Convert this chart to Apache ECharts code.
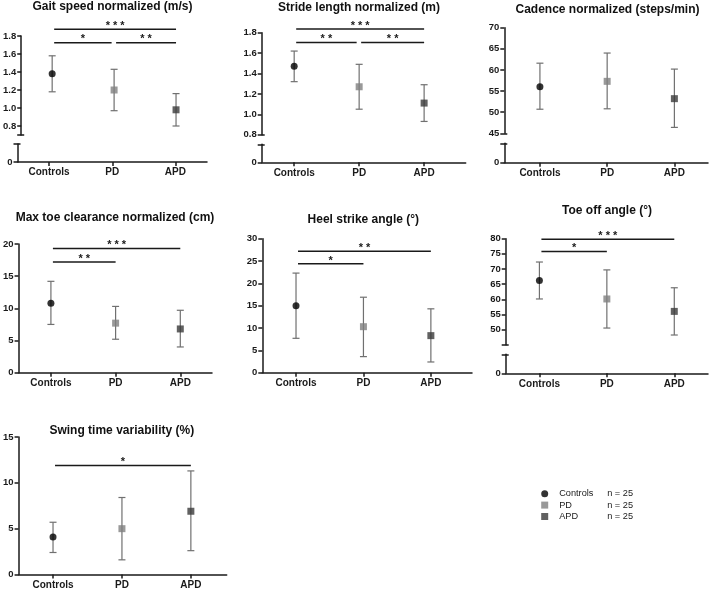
<!DOCTYPE html>
<html><head><meta charset="utf-8">
<script src="https://cdn.jsdelivr.net/npm/echarts@6/dist/echarts.min.js"></script>
<style>html,body{margin:0;padding:0;background:#fff}#c{width:709px;height:590px}</style>
</head><body><div id="c"></div>
<script>
// ---------------- DATA ----------------
const categories = ['Controls', 'PD', 'APD'];
const groupN = [25, 25, 25];
const titles = ['Gait speed normalized (m/s)', 'Stride length normalized (m)', 'Cadence normalized (steps/min)',
  'Max toe clearance normalized (cm)', 'Heel strike angle (°)', 'Toe off angle (°)', 'Swing time variability (%)'];

const gaitMean = [1.38, 1.20, 0.98];
const gaitLow  = [1.18, 0.97, 0.80];
const gaitHigh = [1.58, 1.43, 1.16];
const gaitTicks = [0.8, 1.0, 1.2, 1.4, 1.6, 1.8];
const gaitSig = [[0, 2, 1.874, '* * *'], [0, 1, 1.726, '*'], [1, 2, 1.726, '* *']];

const strideMean = [1.47, 1.27, 1.11];
const strideLow  = [1.32, 1.05, 0.93];
const strideHigh = [1.62, 1.49, 1.29];
const strideTicks = [0.8, 1.0, 1.2, 1.4, 1.6, 1.8];
const strideSig = [[0, 2, 1.836, '* * *'], [0, 1, 1.705, '* *'], [1, 2, 1.705, '* *']];

const cadMean = [56.0, 57.3, 53.2];
const cadLow  = [50.7, 50.8, 46.4];
const cadHigh = [61.6, 64.0, 60.2];
const cadTicks = [45, 50, 55, 60, 65, 70];
const cadSig = [];

const mtcMean = [10.8, 7.7, 6.8];
const mtcLow  = [7.5, 5.2, 4.0];
const mtcHigh = [14.2, 10.3, 9.7];
const mtcTicks = [0, 5, 10, 15, 20];
const mtcSig = [[0, 2, 19.3, '* * *'], [0, 1, 17.2, '* *']];

const heelMean = [15.0, 10.3, 8.3];
const heelLow  = [7.7, 3.6, 2.4];
const heelHigh = [22.3, 16.9, 14.3];
const heelTicks = [0, 5, 10, 15, 20, 25, 30];
const heelSig = [[0, 2, 27.2, '* *'], [0, 1, 24.4, '*']];

const toeMean = [66.2, 60.1, 56.0];
const toeLow  = [60.1, 50.5, 48.2];
const toeHigh = [72.3, 69.7, 63.8];
const toeTicks = [50, 55, 60, 65, 70, 75, 80];
const toeSig = [[0, 2, 79.8, '* * *'], [0, 1, 75.8, '*']];

const swingMean = [4.1, 5.0, 6.9];
const swingLow  = [2.4, 1.6, 2.6];
const swingHigh = [5.7, 8.4, 11.3];
const swingTicks = [0, 5, 10, 15];
const swingSig = [[0, 2, 11.9, '*']];

// ---------------- PANELS (built from the arrays) ----------------
const panels = [
  {mean: gaitMean, low: gaitLow, high: gaitHigh, ticks: gaitTicks, sig: gaitSig, yMin: 0.7, yMax: 1.8, broken: true, dec: 1},
  {mean: strideMean, low: strideLow, high: strideHigh, ticks: strideTicks, sig: strideSig, yMin: 0.8, yMax: 1.8, broken: true, dec: 1},
  {mean: cadMean, low: cadLow, high: cadHigh, ticks: cadTicks, sig: cadSig, yMin: 45, yMax: 70, broken: true, dec: 0},
  {mean: mtcMean, low: mtcLow, high: mtcHigh, ticks: mtcTicks, sig: mtcSig, yMin: 0, yMax: 20, broken: false, dec: 0},
  {mean: heelMean, low: heelLow, high: heelHigh, ticks: heelTicks, sig: heelSig, yMin: 0, yMax: 30, broken: false, dec: 0},
  {mean: toeMean, low: toeLow, high: toeHigh, ticks: toeTicks, sig: toeSig, yMin: 45, yMax: 80, broken: true, dec: 0},
  {mean: swingMean, low: swingLow, high: swingHigh, ticks: swingTicks, sig: swingSig, yMin: 0, yMax: 15, broken: false, dec: 0}
];

// ---------------- LAYOUT ----------------
const layout = [
  {left: 17.5, width: 189.5, top: 36, height: 99, lowTop: 144, lowH: 18, xMin: -0.5, xMax: 2.5, tx: 112.5, tb: 9},
  {left: 261.7, width: 204, top: 32.7, height: 102, lowTop: 144.3, lowH: 18, xMin: -0.5, xMax: 2.64, tx: 359, tb: 10},
  {left: 504.3, width: 203.7, top: 27.7, height: 105.6, lowTop: 143.3, lowH: 19.4, xMin: -0.53, xMax: 2.5, tx: 607.5, tb: 12},
  {left: 17.3, width: 194.7, top: 244, height: 128.7, xMin: -0.5, xMax: 2.49, tx: 115, tb: 220.7},
  {left: 262.3, width: 209.7, top: 238.7, height: 134, xMin: -0.5, xMax: 2.61, tx: 363.3, tb: 222.7},
  {left: 505.7, width: 202.3, top: 238.7, height: 106, lowTop: 354.3, lowH: 19, xMin: -0.5, xMax: 2.5, tx: 607, tb: 213.3},
  {left: 17.3, width: 209.4, top: 437, height: 138, xMin: -0.5, xMax: 2.52, tx: 121.8, tb: 433.3}
];

const FONT = "'Liberation Sans', Arial, sans-serif";
const AX = '#1a1a1a';
const ERR = '#707070';
const COLORS = ['#000000', '#808080', '#3a3a3a'];
const SYMBOLS = ['circle', 'rect', 'rect'];

function mainY(gi, min, max, labelVals, tickVals, dec) {
  return {
    type: 'value', gridIndex: gi, min: min, max: max, position: 'left',
    axisLine: {show: true, onZero: false, lineStyle: {color: AX, width: 1.5}},
    axisTick: {show: true, length: 4, customValues: tickVals, lineStyle: {color: AX, width: 1.5}},
    axisLabel: {show: true, customValues: labelVals, margin: 5, color: AX, fontFamily: FONT, fontWeight: 'bold', fontSize: 9.5,
      formatter: v => dec ? Number(v).toFixed(dec) : String(Math.round(v))},
    splitLine: {show: false}
  };
}
function capY(gi, min, max, vals) {
  return {
    type: 'value', gridIndex: gi, min: min, max: max, position: 'left',
    axisLine: {show: false, onZero: false}, axisLabel: {show: false}, splitLine: {show: false},
    axisTick: {show: true, inside: true, length: 3, customValues: vals, lineStyle: {color: AX, width: 1.5}}
  };
}
function visX(gi, L) {
  return {
    type: 'value', gridIndex: gi, min: L.xMin, max: L.xMax, position: 'bottom',
    axisLine: {show: true, onZero: false, lineStyle: {color: AX, width: 1.5}},
    axisTick: {show: true, length: 4, customValues: [0, 1, 2], lineStyle: {color: AX, width: 1.5}},
    axisLabel: {show: true, customValues: [0, 1, 2], margin: 5.5, color: AX, fontFamily: FONT, fontWeight: 'bold', fontSize: 10,
      formatter: v => categories[Math.round(v)]},
    splitLine: {show: false}
  };
}

const grids = [], xAxes = [], yAxes = [], series = [], graphics = [];

panels.forEach((p, k) => {
  const L = layout[k];
  const gi = grids.length;
  grids.push({left: L.left, top: L.top, width: L.width, height: L.height, containLabel: false});
  const upX = xAxes.length, upY = yAxes.length;
  if (p.broken) {
    xAxes.push({type: 'value', gridIndex: gi, min: L.xMin, max: L.xMax, show: false});
    const tv = Array.from(new Set([p.yMin].concat(p.ticks)));
    yAxes.push(mainY(gi, p.yMin, p.yMax, p.ticks, tv, p.dec));
    yAxes.push(capY(gi, p.yMin, p.yMax, [p.yMin]));
    const gl = grids.length;
    grids.push({left: L.left, top: L.lowTop, width: L.width, height: L.lowH, containLabel: false});
    xAxes.push(visX(gl, L));
    yAxes.push(mainY(gl, 0, 1, [0], [0, 1], 0));
    yAxes.push(capY(gl, 0, 1, [1]));
  } else {
    xAxes.push(visX(gi, L));
    yAxes.push(mainY(gi, p.yMin, p.yMax, p.ticks, p.ticks, p.dec));
  }

  // error bars
  series.push({
    type: 'custom', xAxisIndex: upX, yAxisIndex: upY, silent: true, z: 2, clip: false,
    encode: {x: 0, y: [1, 2, 3]},
    data: categories.map((c, i) => [i, p.mean[i], p.low[i], p.high[i]]),
    renderItem: (params, api) => {
      const x = api.value(0);
      const lo = api.coord([x, api.value(2)]);
      const hi = api.coord([x, api.value(3)]);
      const w = 3.5;
      const st = {stroke: ERR, lineWidth: 1.2};
      return {type: 'group', children: [
        {type: 'line', shape: {x1: lo[0], y1: lo[1], x2: hi[0], y2: hi[1]}, style: st},
        {type: 'line', shape: {x1: lo[0] - w, y1: lo[1], x2: lo[0] + w, y2: lo[1]}, style: st},
        {type: 'line', shape: {x1: hi[0] - w, y1: hi[1], x2: hi[0] + w, y2: hi[1]}, style: st}
      ]};
    }
  });

  // means
  categories.forEach((c, i) => {
    series.push({
      type: 'scatter', name: c, xAxisIndex: upX, yAxisIndex: upY, silent: true, z: 3,
      symbol: SYMBOLS[i], symbolSize: 7, itemStyle: {color: COLORS[i]},
      data: [[i, p.mean[i]]]
    });
  });

  // significance bars
  if (p.sig.length) {
    series.push({
      type: 'custom', xAxisIndex: upX, yAxisIndex: upY, silent: true, z: 2, clip: false,
      encode: {x: [0, 1], y: 2},
      data: p.sig.map(s => [s[0], s[1], s[2]]),
      renderItem: (params, api) => {
        const i = api.value(0), j = api.value(1), lv = api.value(2);
        const label = p.sig[params.dataIndex][3];
        const a = api.coord([i, lv]), b = api.coord([j, lv]);
        const adj = p.sig.some(s => s[0] === j);
        const x1 = a[0] + 2, x2 = b[0] - (adj ? 2.5 : 0);
        return {type: 'group', children: [
          {type: 'line', shape: {x1: x1, y1: a[1], x2: x2, y2: a[1]}, style: {stroke: AX, lineWidth: 1.5}},
          {type: 'text', x: (x1 + x2) / 2, y: a[1] - 3.2,
            style: {text: label, align: 'center', verticalAlign: 'middle', fontFamily: FONT, fontWeight: 'bold', fontSize: 11, fill: AX}}
        ]};
      }
    });
  }

  // title
  graphics.push({
    type: 'text', x: L.tx, y: L.tb - 2.7, silent: true,
    style: {text: titles[k], align: 'center', verticalAlign: 'middle', fontFamily: FONT, fontWeight: 'bold', fontSize: 12, fill: '#111'}
  });
});

const chart = echarts.init(document.getElementById('c'), null, {renderer: 'canvas'});
chart.setOption({
  animation: false,
  backgroundColor: '#fff',
  grid: grids, xAxis: xAxes, yAxis: yAxes, series: series,
  graphic: graphics,
  legend: {
    orient: 'vertical', left: 541.2, top: 488, itemWidth: 7, itemHeight: 7, itemGap: 0, padding: 0,
    selectedMode: false,
    data: categories.map((c, i) => ({name: c, icon: SYMBOLS[i], itemStyle: {color: COLORS[i]}})),
    formatter: name => '{n|' + name + '}{c|n = ' + groupN[categories.indexOf(name)] + '}',
    textStyle: {fontFamily: FONT, fontSize: 9.2, color: AX, lineHeight: 11.4,
      rich: {
        n: {width: 48, padding: [0, 0, 0, 6], fontFamily: FONT, fontSize: 9.2, color: AX, lineHeight: 11.4},
        c: {fontFamily: FONT, fontSize: 9.2, color: AX, lineHeight: 11.4}
      }}
  }
});
</script>
</body></html>
